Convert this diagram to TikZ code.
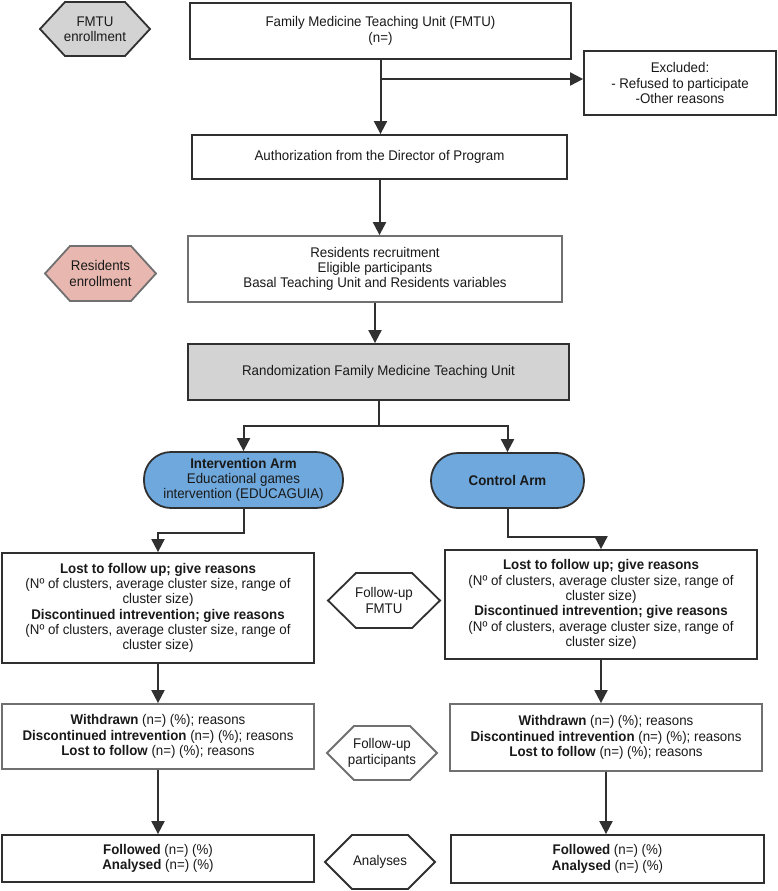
\documentclass[tikz,border=0pt]{standalone}
\usepackage{fontspec}
\setmainfont{Liberation Sans}[FakeStretch=0.95]
\usetikzlibrary{arrows.meta}
\definecolor{dk}{HTML}{303030}
\definecolor{gr}{HTML}{707070}
\definecolor{lgray}{HTML}{D3D3D3}
\definecolor{pinkf}{HTML}{E8B8B0}
\definecolor{bluef}{HTML}{6FA8DC}
\newcommand\hexa[6][]{\draw[hexline,#1] (#2,{(#3+#5)/2}) -- ({#2+#6},#3) -- ({#4-#6},#3) -- (#4,{(#3+#5)/2}) -- ({#4-#6},#5) -- ({#2+#6},#5) -- cycle;}
\tikzset{
  box/.style={draw=dk, line width=1.8pt, fill=white, inner sep=0pt, align=center, text=black!90},
  graybox/.style={box, draw=gr},
  stad/.style={box, fill=bluef, rounded corners=27pt},
  hexline/.style={draw=dk, line width=1.8pt},
  lbl/.style={inner sep=0pt, align=center, text=black!90},
  line/.style={draw=dk, line width=2pt},
  arr/.style={line, -{Triangle[length=13pt,width=13pt]}},
}
\begin{document}
\begin{tikzpicture}[x=1pt,y=-1pt,font=\fontsize{14}{15.3}\selectfont]
\useasboundingbox (0,0) rectangle (778,891);
% top column
\node[box, minimum width=381, minimum height=56] (fmtu) at (380.5,31) {Family Medicine Teaching Unit (FMTU)\\(n=)};
\node[box, minimum width=192, minimum height=64] (excl) at (680,83) {Excluded:\\- Refused to participate\\-Other reasons};
\node[box, minimum width=375, minimum height=44] (auth) at (379.5,157) {Authorization from the Director of Program};
\node[graybox, minimum width=374, minimum height=66] (res) at (375,269) {Residents recruitment\\Eligible participants\\Basal Teaching Unit and Residents variables};
\node[box, fill=lgray, minimum width=381, minimum height=56] (rand) at (378.5,372) {Randomization Family Medicine Teaching Unit};
% arms
\node[stad, minimum width=199, minimum height=56] (inter) at (243.5,480) {\textbf{Intervention Arm}\\Educational games\\intervention (EDUCAGUIA)};
\node[stad, minimum width=153, minimum height=55] (ctrl) at (507.5,480.5) {\textbf{Control Arm}};
% follow-up FMTU
\node[box, minimum width=312, minimum height=110] (lfu) at (158,608) {\textbf{Lost to follow up; give reasons}\\(Nº of clusters, average cluster size, range of\\cluster size)\\\textbf{Discontinued intrevention; give reasons}\\(Nº of clusters, average cluster size, range of\\cluster size)};
\node[box, minimum width=312, minimum height=109] (rfu) at (601,604.5) {\textbf{Lost to follow up; give reasons}\\(Nº of clusters, average cluster size, range of\\cluster size)\\\textbf{Discontinued intrevention; give reasons}\\(Nº of clusters, average cluster size, range of\\cluster size)};
% withdrawn
\node[graybox, minimum width=312, minimum height=65] (lwd) at (158,736.5) {\textbf{Withdrawn} (n=) (\%); reasons\\\textbf{Discontinued intrevention} (n=) (\%); reasons\\\textbf{Lost to follow} (n=) (\%); reasons};
\node[graybox, minimum width=312, minimum height=67] (rwd) at (606,737.5) {\textbf{Withdrawn} (n=) (\%); reasons\\\textbf{Discontinued intrevention} (n=) (\%); reasons\\\textbf{Lost to follow} (n=) (\%); reasons};
% final
\node[box, minimum width=312, minimum height=47] (lfin) at (158,858.5) {\textbf{Followed} (n=) (\%)\\\textbf{Analysed} (n=) (\%)};
\node[box, minimum width=313, minimum height=48] (rfin) at (607.5,859) {\textbf{Followed} (n=) (\%)\\\textbf{Analysed} (n=) (\%)};
% hexagons
\hexa[fill=lgray]{40}{2}{150}{56}{25}
\node[lbl] (hfmtu) at (95,29) {FMTU\\enrollment};
\hexa[fill=pinkf, draw=gr]{45}{246}{156}{301}{25}
\node[lbl] (hres) at (100.5,273.5) {Residents\\enrollment};
\hexa[fill=white]{328}{573}{440}{628}{28}
\node[lbl] (hfu) at (384,600.5) {Follow-up\\FMTU};
\hexa[fill=white, draw=gr]{327}{726}{437}{780}{27}
\node[lbl] (hpart) at (382,753) {Follow-up\\participants};
\hexa[fill=white]{325}{835}{435}{889}{27}
\node[lbl] (hana) at (380,862) {Analyses};
% connectors
\coordinate (br) at (380.5,79);
\draw[arr] (fmtu.south) -- (fmtu.south |- auth.north);
\draw[arr] (br) -- (br -| excl.west);
\draw[arr] (auth.south) -- (auth.south |- res.north);
\draw[arr] (res.south) -- (res.south |- rand.north);
\coordinate (split) at (378.5,426);
\draw[line] (rand.south) -- (split);
\draw[arr] (split) -| (inter.north);
\draw[arr] (split) -| (ctrl.north);
\draw[arr] (inter.south) -- ++(0,24) -| (lfu.north);
\draw[arr] (ctrl.south) -- ++(0,28) -| (rfu.north);
\draw[arr] (lfu.south) -- (lfu.south |- lwd.north);
\draw[arr] (rfu.south) -- (rfu.south |- rwd.north);
\draw[arr] (lwd.south) -- (lwd.south |- lfin.north);
\draw[arr] (rwd.south) -- (rwd.south |- rfin.north);
\end{tikzpicture}
\end{document}
